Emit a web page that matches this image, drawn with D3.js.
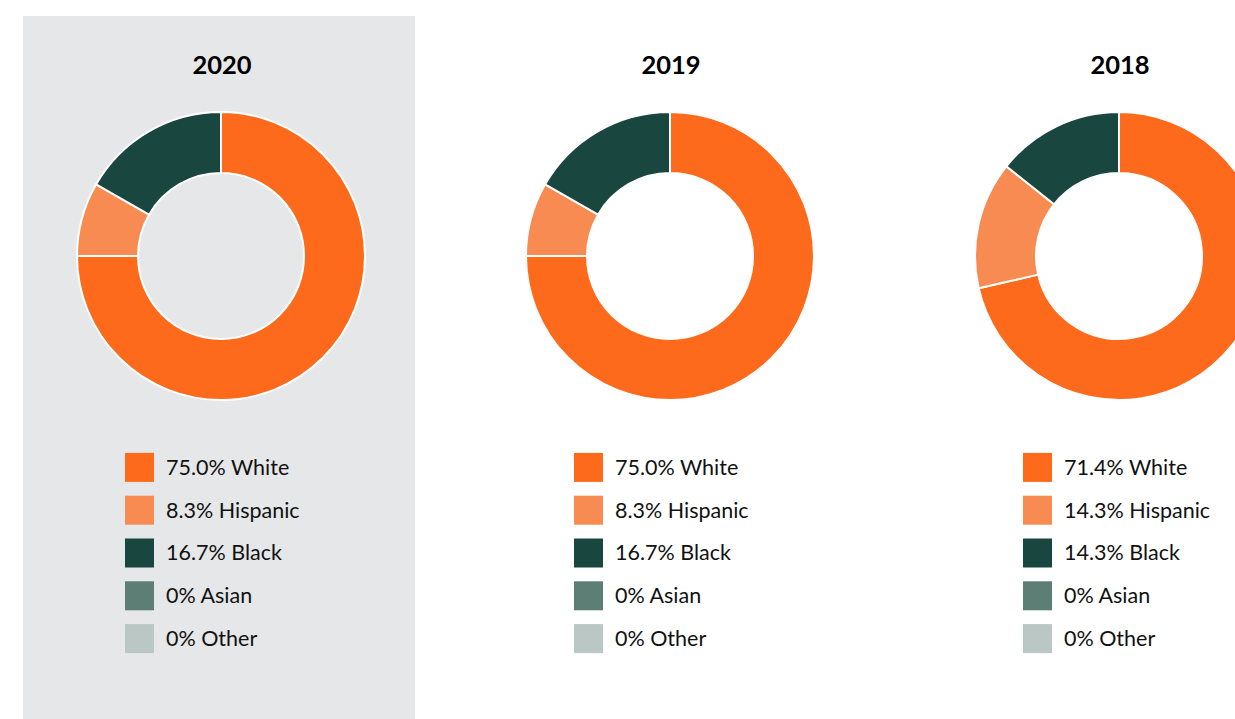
<!DOCTYPE html>
<html>
<head>
<meta charset="utf-8">
<script src="https://cdn.jsdelivr.net/npm/d3@7/dist/d3.min.js"></script>
<style>
  html, body { margin: 0; padding: 0; background: #fff; }
  svg { display: block; }
</style>
</head>
<body>
<svg id="chart" width="1235" height="719"></svg>
<script>
// Race / ethnicity breakdown by year
const years = ["2020", "2019", "2018"];
const categories = ["White", "Hispanic", "Black", "Asian", "Other"];
const values2020 = [75.0, 8.3, 16.7, 0, 0];
const values2019 = [75.0, 8.3, 16.7, 0, 0];
const values2018 = [71.4, 14.3, 14.3, 0, 0];
const valueLabels2020 = ["75.0%", "8.3%", "16.7%", "0%", "0%"];
const valueLabels2019 = ["75.0%", "8.3%", "16.7%", "0%", "0%"];
const valueLabels2018 = ["71.4%", "14.3%", "14.3%", "0%", "0%"];
const colors = ["#fe6a1b", "#f78b52", "#1a4640", "#5c7e75", "#bbc7c4"];

const series = [
  { year: years[0], values: values2020, labels: valueLabels2020, highlight: true },
  { year: years[1], values: values2019, labels: valueLabels2019, highlight: false },
  { year: years[2], values: values2018, labels: valueLabels2018, highlight: false }
];

const svg = d3.select("#chart");
const font = "Lato, 'Open Sans', sans-serif";

const color = d3.scaleOrdinal().domain(categories).range(colors);
const xCenter = d3.scalePoint().domain(years).range([221, 1119]);

const outerR = 144, innerR = 83, cy = 256;
const pie = d3.pie().sort(null).value(d => d.value);
const arc = d3.arc().innerRadius(innerR).outerRadius(outerR);

// highlighted panel behind the current year
series.filter(s => s.highlight).forEach(s => {
  svg.append("rect")
    .attr("x", xCenter(s.year) - 198)
    .attr("y", 16)
    .attr("width", 392)
    .attr("height", 719 - 16)
    .attr("fill", "#e6e7e8");
});

series.forEach(s => {
  const cx = xCenter(s.year);
  const g = svg.append("g");

  g.append("text")
    .attr("x", cx + 1)
    .attr("y", 67)
    .attr("text-anchor", "middle")
    .attr("dominant-baseline", "middle")
    .attr("font-family", font)
    .attr("font-weight", 700)
    .attr("font-size", 25.5)
    .attr("fill", "#000")
    .text(s.year);

  const rows = categories.map((c, i) => ({ cat: c, value: s.values[i], label: s.labels[i] }));

  g.append("g")
    .attr("transform", `translate(${cx},${cy})`)
    .selectAll("path")
    .data(pie(rows).filter(d => d.data.value > 0))
    .join("path")
    .attr("d", arc)
    .attr("fill", d => color(d.data.cat))
    .attr("stroke", "#fff")
    .attr("stroke-width", 2);

  const legendY = d3.scaleBand().domain(categories).range([446, 660]).paddingInner(0);
  const leg = g.append("g").attr("transform", `translate(${cx - 96},0)`);
  const item = leg.selectAll("g").data(rows).join("g")
    .attr("transform", d => `translate(0,${legendY(d.cat) + legendY.bandwidth() / 2})`);
  item.append("rect")
    .attr("x", 0).attr("y", -14.5)
    .attr("width", 29).attr("height", 29)
    .attr("fill", d => color(d.cat));
  item.append("text")
    .attr("x", 41).attr("y", 2)
    .attr("dominant-baseline", "middle")
    .attr("font-family", font)
    .attr("font-size", 21.5)
    .attr("fill", "#111")
    .text(d => `${d.label} ${d.cat}`);
});
</script>
</body>
</html>
